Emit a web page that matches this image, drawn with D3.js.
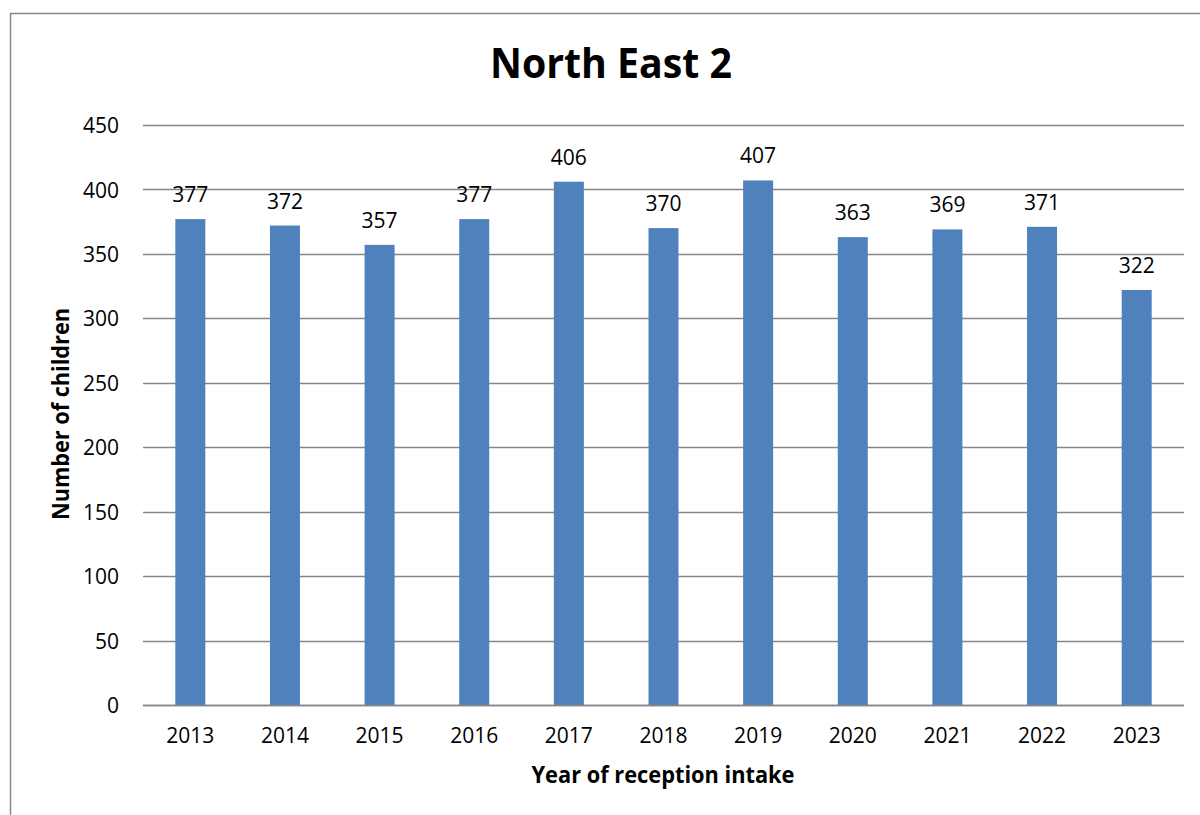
<!DOCTYPE html>
<html>
<head>
<meta charset="utf-8">
<script src="https://cdn.jsdelivr.net/npm/d3@7"></script>
<style>
  html, body { margin: 0; padding: 0; background: #fff; }
  svg { display: block; }
  text { font-family: "Open Sans", "Noto Sans", sans-serif; fill: #000; }
</style>
</head>
<body>
<svg id="chart" width="1200" height="815"></svg>
<script>
const title = "North East 2";
const xTitle = "Year of reception intake";
const yTitle = "Number of children";
const years = ["2013", "2014", "2015", "2016", "2017", "2018", "2019", "2020", "2021", "2022", "2023"];
const children = [377, 372, 357, 377, 406, 370, 407, 363, 369, 371, 322];
const yTicks = [0, 50, 100, 150, 200, 250, 300, 350, 400, 450];

const svg = d3.select("#chart");
const W = 1200, H = 815;
const plot = { left: 143, right: 1184, top: 125, bottom: 705 };

// outer chart frame (left and top edges visible)
svg.append("path")
  .attr("d", `M10.5,${H} L10.5,13.5 L${W},13.5`)
  .attr("fill", "none")
  .attr("stroke", "#8a8a8a")
  .attr("stroke-width", 1.5);

const x = d3.scaleBand()
  .domain(years)
  .range([plot.left, plot.right])
  .paddingInner(0.683)
  .paddingOuter(0.3415);

const y = d3.scaleLinear()
  .domain([0, 450])
  .range([plot.bottom, plot.top]);

// gridlines
svg.append("g")
  .selectAll("line")
  .data(yTicks)
  .join("line")
  .attr("x1", plot.left)
  .attr("x2", plot.right)
  .attr("y1", d => Math.round(y(d)) + 0.5)
  .attr("y2", d => Math.round(y(d)) + 0.5)
  .attr("stroke", "#868686")
  .attr("stroke-width", 1.3);

// y axis labels
const yAxis = d3.axisLeft(y).tickValues(yTicks).tickSize(0).tickPadding(0);
const yg = svg.append("g")
  .attr("transform", `translate(${plot.left - 24},0)`)
  .call(yAxis);
yg.select(".domain").remove();
yg.selectAll("text")
  .attr("font-size", 21)
  .attr("font-family", '"Open Sans", sans-serif')
  .attr("fill", "#000")
  .attr("dy", "0.36em");

// bars
svg.append("g")
  .selectAll("rect")
  .data(children)
  .join("rect")
  .attr("x", (d, i) => x(years[i]))
  .attr("width", x.bandwidth())
  .attr("y", d => y(d))
  .attr("height", d => y(0) - y(d))
  .attr("fill", "#4F81BD");

// redraw baseline over bars
svg.append("line")
  .attr("x1", plot.left).attr("x2", plot.right)
  .attr("y1", Math.round(y(0)) + 0.5).attr("y2", Math.round(y(0)) + 0.5)
  .attr("stroke", "#868686").attr("stroke-width", 1.3);

// data labels
svg.append("g")
  .selectAll("text")
  .data(children)
  .join("text")
  .attr("x", (d, i) => x(years[i]) + x.bandwidth() / 2)
  .attr("y", d => y(d) - 17)
  .attr("text-anchor", "middle")
  .attr("font-size", 21)
  .text(d => d);

// x axis labels
const xAxis = d3.axisBottom(x).tickSize(0).tickPadding(0);
const xg = svg.append("g")
  .attr("transform", `translate(0,${plot.bottom + 38})`)
  .call(xAxis);
xg.select(".domain").remove();
xg.selectAll("text")
  .attr("font-size", 21)
  .attr("font-family", '"Open Sans", sans-serif')
  .attr("fill", "#000")
  .attr("dy", "0");

// title
svg.append("text")
  .attr("x", 611)
  .attr("y", 78)
  .attr("text-anchor", "middle")
  .attr("font-size", 41)
  .attr("font-weight", "bold")
  .attr("textLength", 242)
  .attr("lengthAdjust", "spacingAndGlyphs")
  .text(title);

// x axis title
svg.append("text")
  .attr("x", 663)
  .attr("y", 783)
  .attr("text-anchor", "middle")
  .attr("font-size", 24)
  .attr("font-weight", "bold")
  .attr("textLength", 263)
  .attr("lengthAdjust", "spacingAndGlyphs")
  .text(xTitle);

// y axis title
svg.append("text")
  .attr("transform", "translate(69,414) rotate(-90)")
  .attr("text-anchor", "middle")
  .attr("font-size", 24)
  .attr("font-weight", "bold")
  .attr("textLength", 212)
  .attr("lengthAdjust", "spacingAndGlyphs")
  .text(yTitle);
</script>
</body>
</html>
